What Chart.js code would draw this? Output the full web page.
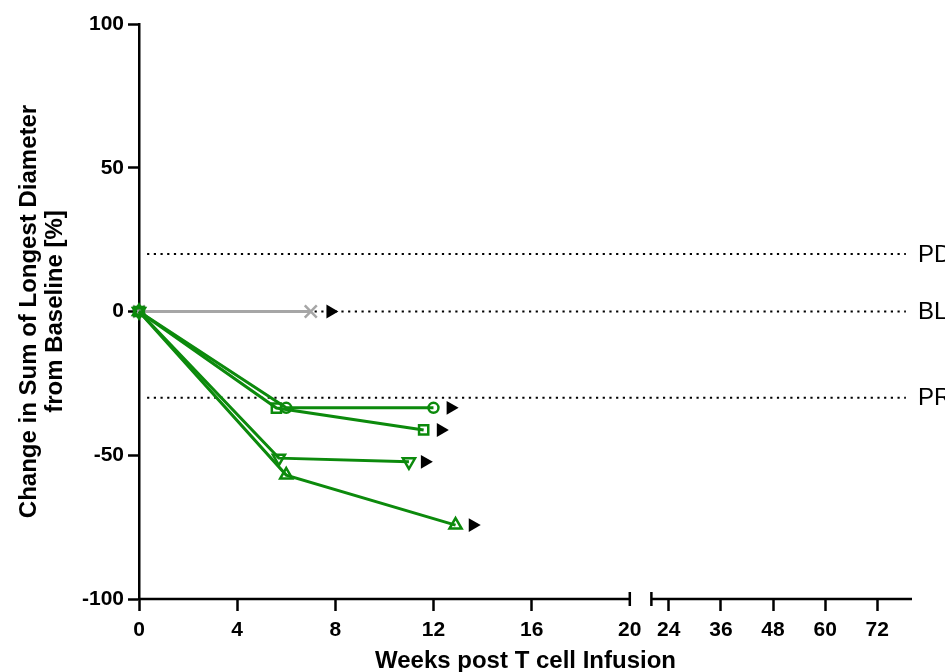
<!DOCTYPE html>
<html>
<head>
<meta charset="utf-8">
<script src="https://cdn.jsdelivr.net/npm/chart.js@4"></script>
<style>
  html, body { margin: 0; padding: 0; background: #fff; }
  #wrap { width: 945px; height: 672px; position: relative; }
</style>
</head>
<body>
<div id="wrap"><canvas id="chart"></canvas></div>
<script>
// series: weeks post infusion / % change in SLD
const circleWeeks = [0, 6, 12];
const circleValues = [0, -33.5, -33.5];
const squareWeeks = [0, 5.6, 11.6];
const squareValues = [0, -33.6, -41.2];
const downWeeks = [0, 5.7, 11.0];
const downValues = [0, -51, -52.3];
const upWeeks = [0, 6.0, 12.9];
const upValues = [0, -56.9, -74.3];
const greyWeeks = [0, 7.0];
const greyValues = [0, 0];

// ongoing-response arrows
const arrowWeeks = [7.8, 12.7, 12.3, 11.65, 13.6];
const arrowValues = [0, -33.5, -41.2, -52.3, -74.3];

// reference levels
const refLevels = [20, 0, -30];
const refLabels = ['PD', 'BL', 'PR'];

// axis ticks
const yTicks = [-100, -50, 0, 50, 100];
const leftTicks = [0, 4, 8, 12, 16, 20];
const rightTicks = [24, 36, 48, 60, 72];

// broken x axis: 0-20 weeks full size, then gap, then 20-80 compressed
const breakAt = 20;
const axisEnd = 80;
const breakGap = 0.88;
const rightScale = 0.177;
function toAxis(w) {
  return w <= breakAt ? w : breakAt + breakGap + (w - breakAt) * rightScale;
}

const green = '#0c8a0c';
const grey = '#a6a6a6';
const font = "'Liberation Sans', Arial, sans-serif";

const tickUnits = leftTicks.map(toAxis).concat(rightTicks.map(toAxis));
const tickTexts = leftTicks.concat(rightTicks).map(String);

function pts(xs, ys) {
  return xs.map((x, i) => ({ x: toAxis(x), y: ys[i] }));
}

function series(xs, ys, style, color, radius, rotation) {
  return {
    data: pts(xs, ys),
    borderColor: color,
    backgroundColor: 'transparent',
    borderWidth: 3,
    pointStyle: style,
    pointRadius: radius,
    pointRotation: rotation || 0,
    pointBorderWidth: 2.5,
    pointBorderColor: color,
    pointBackgroundColor: 'transparent',
    tension: 0,
    clip: false
  };
}

const datasets = [
  series(circleWeeks, circleValues, 'circle', green, 5),
  series(squareWeeks, squareValues, 'rect', green, 6.5),
  series(downWeeks, downValues, 'triangle', green, 7, 180),
  series(upWeeks, upValues, 'triangle', green, 7),
  series(greyWeeks, greyValues, 'crossRot', grey, 8.5),
  {
    data: pts(arrowWeeks, arrowValues),
    showLine: false,
    pointStyle: 'triangle',
    pointRotation: 90,
    pointRadius: 8,
    pointBorderWidth: 0,
    pointBackgroundColor: '#000',
    clip: false
  }
];

refLevels.forEach(v => {
  datasets.push({
    data: [{ x: 0.33, y: v }, { x: toAxis(axisEnd) - 0.25, y: v }],
    borderColor: '#000',
    borderWidth: 2,
    borderDash: [2.2, 4.5],
    pointRadius: 0,
    tension: 0
  });
});

const brokenAxis = {
  id: 'brokenAxis',
  afterDraw(chart) {
    const { ctx, chartArea, scales: { x, y } } = chart;
    const yb = chartArea.bottom;
    const p0 = x.getPixelForValue(0);
    const p1 = x.getPixelForValue(breakAt);
    const p2 = x.getPixelForValue(breakAt + breakGap);
    const p3 = x.getPixelForValue(toAxis(axisEnd));
    ctx.save();
    ctx.strokeStyle = '#000';
    ctx.lineWidth = 2.5;
    ctx.beginPath();
    ctx.moveTo(p0 - 1, yb);
    ctx.lineTo(p1, yb);
    ctx.moveTo(p1, yb - 7);
    ctx.lineTo(p1, yb + 7);
    ctx.moveTo(p2, yb - 7);
    ctx.lineTo(p2, yb + 7);
    ctx.moveTo(p2, yb);
    ctx.lineTo(p3, yb);
    ctx.stroke();

    // reference labels at the right
    ctx.fillStyle = '#000';
    ctx.font = '24px ' + font;
    ctx.textAlign = 'left';
    ctx.textBaseline = 'middle';
    refLevels.forEach((v, i) => {
      ctx.fillText(refLabels[i], chartArea.right + 6, y.getPixelForValue(v) + 1);
    });
    ctx.restore();
  }
};

new Chart(document.getElementById('chart'), {
  type: 'line',
  data: { datasets },
  options: {
    responsive: true,
    maintainAspectRatio: false,
    animation: false,
    layout: { padding: { top: 24, right: 33, left: 0, bottom: 0 } },
    plugins: {
      legend: { display: false },
      tooltip: { enabled: false }
    },
    scales: {
      x: {
        type: 'linear',
        min: 0,
        max: toAxis(axisEnd),
        afterBuildTicks: s => { s.ticks = tickUnits.map(v => ({ value: v })); },
        afterFit: s => { s.height = 73; },
        border: { display: false },
        grid: {
          drawOnChartArea: false,
          drawTicks: true,
          tickLength: 12,
          tickWidth: 2.5,
          tickColor: c => (c.tick && c.tick.value === breakAt ? 'rgba(0,0,0,0)' : '#000')
        },
        ticks: {
          autoSkip: false,
          maxRotation: 0,
          padding: 7,
          color: '#000',
          font: { family: font, size: 21, weight: 'bold' },
          callback: (v, i) => tickTexts[i]
        },
        title: {
          display: true,
          text: 'Weeks post T cell Infusion',
          color: '#000',
          padding: { top: 0, bottom: 0 },
          font: { family: font, size: 24, weight: 'bold', lineHeight: 0.9 }
        }
      },
      y: {
        min: -100,
        max: 100,
        afterBuildTicks: s => { s.ticks = yTicks.map(v => ({ value: v })); },
        afterFit: s => { s.width = 139; },
        border: { display: true, color: '#000', width: 2.5 },
        grid: {
          drawOnChartArea: false,
          drawTicks: true,
          tickLength: 11,
          tickWidth: 2.5,
          tickColor: '#000'
        },
        ticks: {
          padding: 4,
          color: '#000',
          font: { family: font, size: 21, weight: 'bold' }
        },
        title: {
          display: true,
          text: ['Change in Sum of Longest Diameter', 'from Baseline [%]'],
          color: '#000',
          padding: { top: 16, bottom: 0 },
          font: { family: font, size: 24, weight: 'bold', lineHeight: 1.1 }
        }
      }
    }
  },
  plugins: [brokenAxis]
});
</script>
</body>
</html>
